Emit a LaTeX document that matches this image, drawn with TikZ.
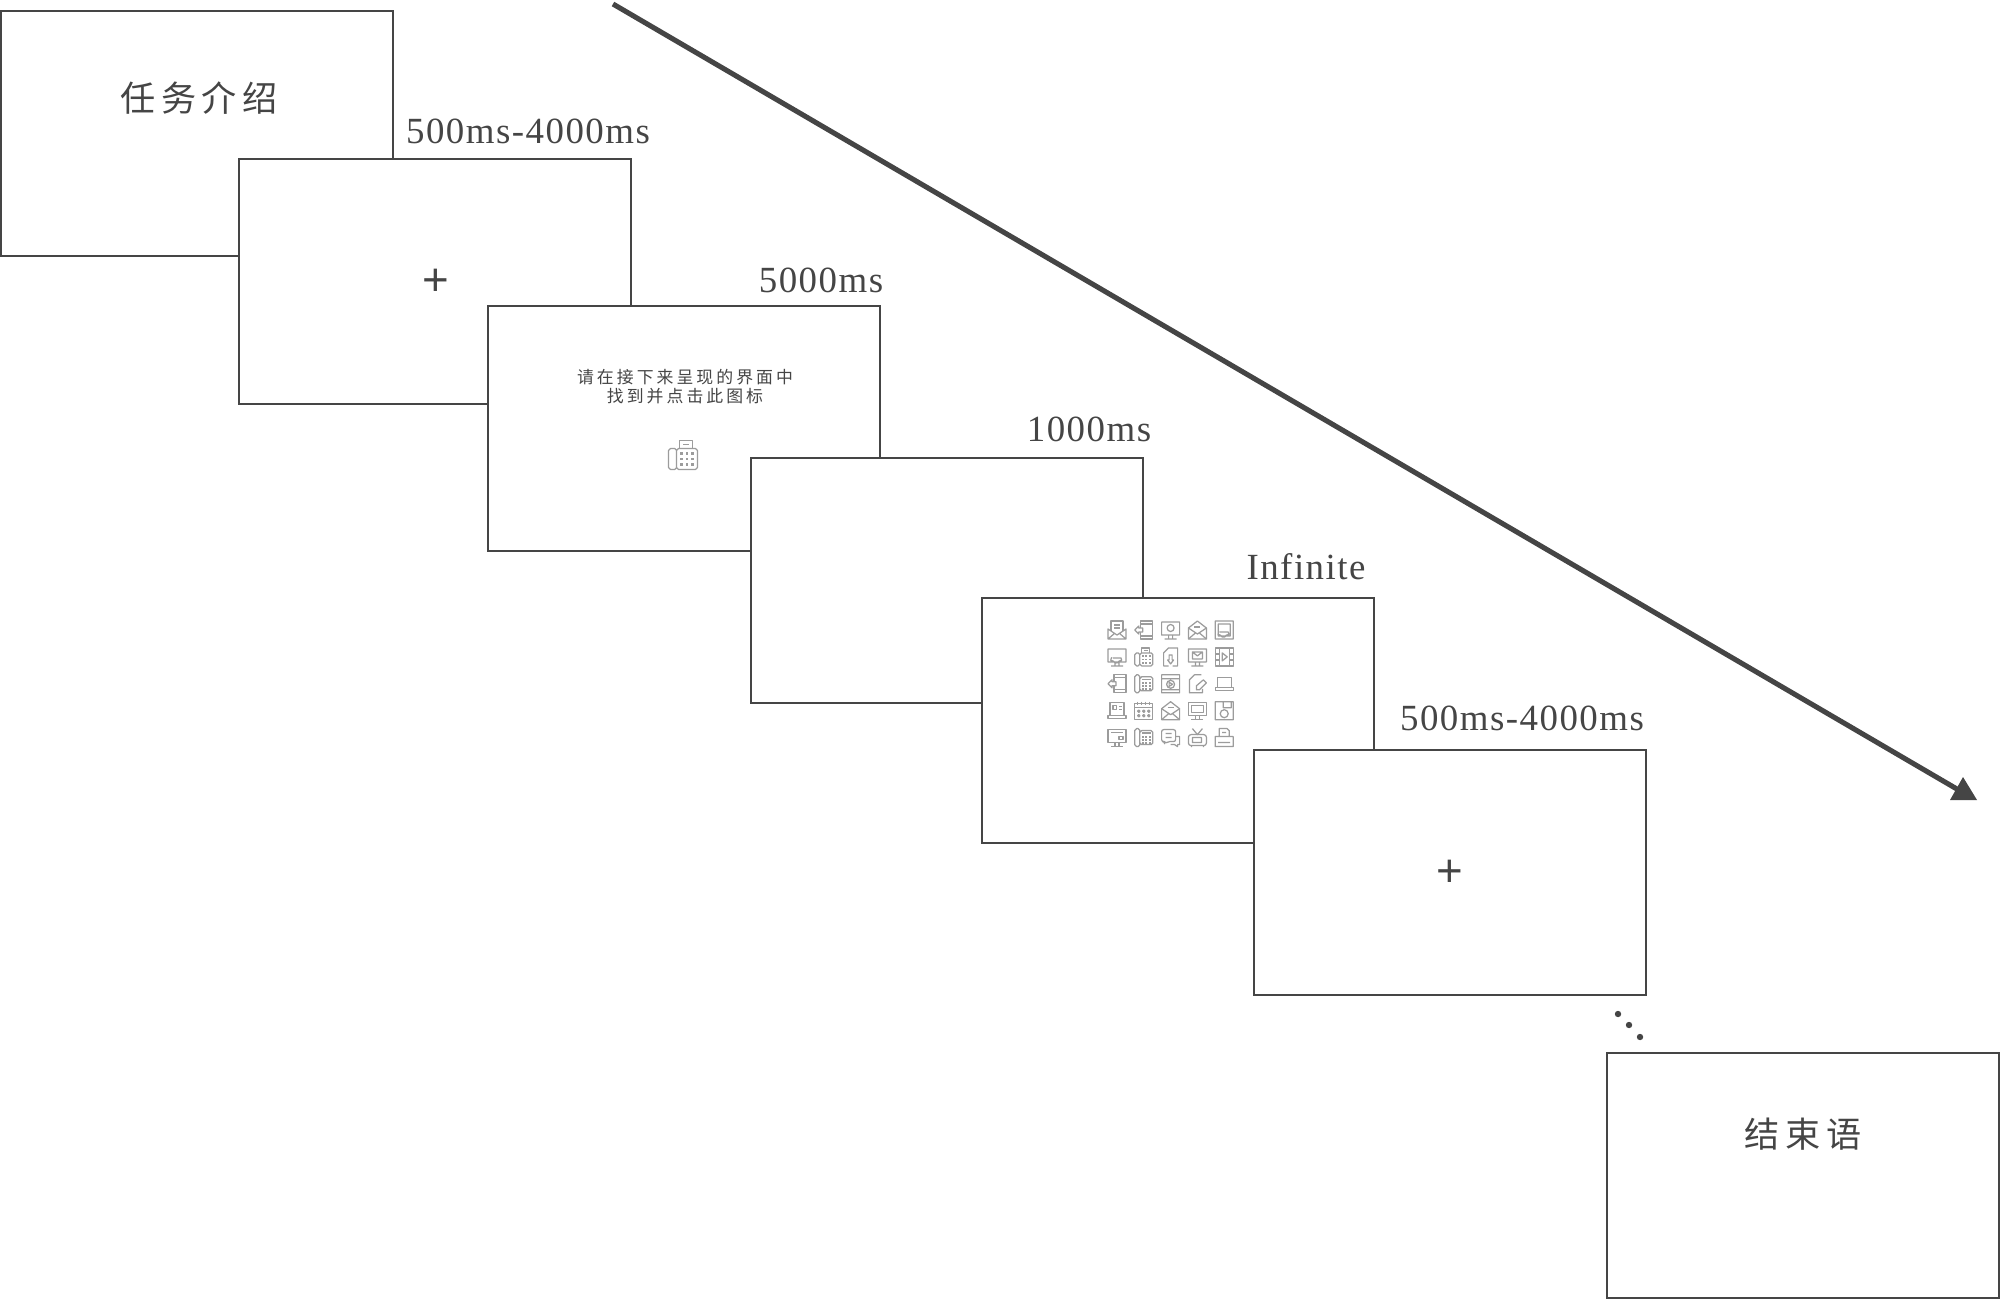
\documentclass[tikz,border=0pt]{standalone}
\usepackage{fontspec}
\setmainfont{Liberation Serif}[LetterSpace=4]
\setsansfont{Liberation Sans}
\newfontfamily\cjktitle{Noto Sans CJK SC}[LetterSpace=16]
\newfontfamily\cjksmall{Noto Sans CJK SC}[LetterSpace=18]
\definecolor{inkgray}{HTML}{454545}
\definecolor{icongray}{HTML}{9C9C9C}
\tikzset{
  screenbox/.style={draw=inkgray, fill=white, line width=1.3pt, anchor=north west, outer sep=0pt,
    minimum width=7.84cm, minimum height=4.9cm},
  timelabel/.style={text=inkgray, font=\fontsize{21}{25}\selectfont, inner sep=0pt},
  titletext/.style={text=inkgray, font=\cjktitle\fontsize{20}{24}\selectfont, inner sep=0pt},
  fixcross/.style={text=inkgray, font=\sffamily\fontsize{26}{26}\selectfont, inner sep=0pt},
  iconline/.style={draw=icongray, line width=0.7pt, line join=round},
  envopen/.pic={
    \draw[iconline] (-9,-2) -- (0,-9) -- (9,-2) -- (9,9) -- (-9,9) -- cycle;
    \draw[iconline] (-9,-2) -- (0,4) -- (9,-2) (-9,9) -- (-2,3) (9,9) -- (2,3);
    \draw[iconline] (-3,-3) -- (3,-3);},
  envpaper/.pic={
    \draw[iconline] (-6,1) -- (-6,-9) -- (6,-9) -- (6,1) (-3,-5) -- (3,-5) (-3,-2) -- (3,-2);
    \draw[iconline] (-9,-1) -- (-9,9) -- (9,9) -- (9,-1) -- (0,5) -- cycle (-9,9) -- (-2,3) (9,9) -- (2,3);},
  tabarrow/.pic={
    \draw[iconline] (-3,-9) rectangle (9,9) (-3,-6) -- (9,-6) (-3,6) -- (9,6);
    \draw[iconline,fill=white] (-9,0) -- (-5,-4) -- (-5,-2) -- (-1,-2) -- (-1,2) -- (-5,2) -- (-5,4) -- cycle;},
  monitor/.pic={
    \draw[iconline] (-9,-8) rectangle (9,5) (-6,-5) rectangle (6,2) (-2,5) -- (-2,9) (2,5) -- (2,9) (-6,9) -- (6,9);},
  moncircle/.pic={
    \draw[iconline] (-9,-8) rectangle (9,5) (0,-2) circle (3.5) (-2,5) -- (-2,9) (2,5) -- (2,9) (-6,9) -- (6,9);},
  moncloud/.pic={
    \draw[iconline] (-9,-8) rectangle (9,5) (-4,1) -- (4,1) arc (-60:120:1.8) arc (20:160:3.2) arc (60:270:1.8) (-2,5) -- (-2,9) (2,5) -- (2,9) (-6,9) -- (6,9);},
  monenv/.pic={
    \draw[iconline] (-9,-8) rectangle (9,5) (-5,-5) rectangle (5,2) (-5,-5) -- (0,-1) -- (5,-5) (-2,5) -- (-2,9) (2,5) -- (2,9) (-6,9) -- (6,9);},
  moncard/.pic={
    \draw[iconline] (-9,-8) rectangle (9,5) (-6,-5) -- (6,-5) (2,-1) rectangle (6,2) (-2,5) -- (-2,9) (2,5) -- (2,9) (-6,9) -- (6,9);},
  padcloud/.pic={
    \draw[iconline] (-9,-9) rectangle (9,9) (-6,-6) rectangle (6,6) (-4,2) -- (4,2) arc (-60:120:1.8) arc (20:160:3.2) arc (60:270:1.8);},
  faxphone/.pic={
    \draw[iconline,rounded corners=1pt] (-9,-4) rectangle (-4,9) (-4,-4) rectangle (9,9);
    \draw[iconline] (-2,-4) -- (-2,-9) -- (6,-9) -- (6,-4) (0,-6.5) -- (4,-6.5);
    \foreach \kx in {-1,2.5,6} \foreach \ky in {-1,2.5,6}
      \fill[icongray] (\kx-0.9,\ky-0.9) rectangle (\kx+0.9,\ky+0.9);},
  deskphone/.pic={
    \draw[iconline,rounded corners=1pt] (-9,-9) rectangle (-4,9) (-4,-7) rectangle (9,7);
    \foreach \kx in {-1,2.5,6} \foreach \ky in {-1,2.5,5}
      \fill[icongray] (\kx-0.9,\ky-0.9) rectangle (\kx+0.9,\ky+0.9);
    \draw[iconline] (-1.5,-4.5) -- (7,-4.5);},
  docarrow/.pic={
    \draw[iconline] (-2,9) -- (-7,9) -- (-7,-4) -- (-2,-9) -- (7,-9) -- (7,9) -- (2,9);
    \draw[iconline] (-3,3) -- (-1.5,3) -- (-1.5,-2) -- (1.5,-2) -- (1.5,3) -- (3,3) -- (0,7) -- cycle;},
  filmstrip/.pic={
    \draw[iconline] (-9,-9) rectangle (9,9) (-5,-9) -- (-5,9) (5,-9) -- (5,9) (-9,-3) -- (-5,-3) (-9,3) -- (-5,3) (5,-3) -- (9,-3) (5,3) -- (9,3);
    \draw[iconline] (-2,-4) -- (3,0) -- (-2,4) -- cycle;},
  videobox/.pic={
    \draw[iconline] (-9,-9) rectangle (9,9) (-9,-5) -- (9,-5) (-9,6) -- (9,6) (0,0.5) circle (4) (-1.5,-1.5) -- (2,0.5) -- (-1.5,2.5) -- cycle;},
  docpen/.pic={
    \draw[iconline] (4,-9) -- (-3,-9) -- (-8,-4) -- (-8,9) -- (5,9) -- (5,5);
    \draw[iconline] (-1,6) -- (-1,2) -- (6,-4) -- (9,-1) -- (2,6) -- cycle;},
  laptop/.pic={
    \draw[iconline] (-7,-6) rectangle (7,4) (-9,4) rectangle (9,7);},
  lapcard/.pic={
    \draw[iconline] (-7,-8) rectangle (7,5) (-9,5) rectangle (9,8) (-4,-5) rectangle (-0.5,-1) (2,-4) -- (5,-4) (2,-1) -- (5,-1);},
  calsheet/.pic={
    \draw[iconline] (-9,-7) rectangle (9,9) (-9,-3) -- (9,-3);
    \foreach \kx in {-6,-2,2,6} \draw[iconline] (\kx,-9) -- (\kx,-6);
    \foreach \kx in {-5,0,5} \foreach \ky in {0.5,5}
      \draw[iconline] (\kx,\ky) circle (1.2);},
  floppy/.pic={
    \draw[iconline] (-9,-9) rectangle (9,9) (-1,-9) -- (-1,-3) -- (7,-3) -- (7,-9) (0,3) circle (4);},
  chatbox/.pic={
    \draw[iconline,rounded corners=1.2pt] (-9,-8) -- (5,-8) -- (5,4) -- (-3,4) -- (-6,6) -- (-6,4) -- (-9,4) -- cycle;
    \draw[iconline] (-5,-4) -- (1,-4) (-5,0) -- (1,0) (5,-1) -- (9,-1) -- (9,7) -- (7,7) -- (7,9) -- (4,7) -- (0,7);},
  oldtv/.pic={
    \draw[iconline,rounded corners=1.5pt] (-9,-3) rectangle (9,8);
    \draw[iconline] (-5,0) rectangle (4,5) (-5,-9) -- (0,-3) -- (5,-9) (-6,8) -- (-6,9.5) (6,8) -- (6,9.5);},
  printer/.pic={
    \draw[iconline] (-5,-1) -- (-5,-9) -- (3,-9) -- (5,-7) -- (5,-1) (-9,9) -- (-9,-1) -- (9,-1) -- (9,9) -- cycle (-6,5) -- (6,5) (-2,-5) -- (2,-5);}
}
\begin{document}
\begin{tikzpicture}[x=0.02cm,y=-0.02cm]
  \useasboundingbox (0,0) rectangle (2004,1298);

  % screens, back to front
  \node[screenbox] (intro) at (1,11) {};
  \node[screenbox] (fixa) at (239,159) {};
  \node[screenbox] (cue) at (488,306) {};
  \node[screenbox] (blank) at (751,458) {};
  \node[screenbox] (search) at (982,598) {};
  \node[screenbox] (fixb) at (1254,750) {};
  \node[screenbox] (outro) at (1607,1053) {};

  % screen contents
  \node[titletext] (introtext) at (199,98) {任务介绍};
  \node[fixcross] (fixacross) at (435.5,282.5) {+};
  \node[text=inkgray, font=\cjksmall\fontsize{9.6}{10.8}\selectfont, align=center, inner sep=0pt] (cuetext) at (685,387) {请在接下来呈现的界面中\\找到并点击此图标};
  \pic[scale=1.6] at (683,455) {faxphone};
  \foreach \iconname/\col/\row in {envpaper/0/0, tabarrow/1/0, moncircle/2/0, envopen/3/0, padcloud/4/0,
      moncloud/0/1, faxphone/1/1, docarrow/2/1, monenv/3/1, filmstrip/4/1,
      tabarrow/0/2, deskphone/1/2, videobox/2/2, docpen/3/2, laptop/4/2,
      lapcard/0/3, calsheet/1/3, envopen/2/3, monitor/3/3, floppy/4/3,
      moncard/0/4, deskphone/1/4, chatbox/2/4, oldtv/3/4, printer/4/4}
    \pic at ({1117+26.8*\col},{630+26.9*\row}) {\iconname};
  \node[fixcross] (fixbcross) at (1450,873) {+};
  \node[titletext] (outrotext) at (1803,1134) {结束语};

  % durations
  \node[timelabel] (introtime) at (528,131) {500ms-4000ms};
  \node[timelabel] (fixatime) at (821,280) {5000ms};
  \node[timelabel] (cuetime) at (1089,429) {1000ms};
  \node[timelabel] (blanktime) at (1306,567) {Infinite};
  \node[timelabel] (searchtime) at (1522,718) {500ms-4000ms};

  % dots
  \fill[inkgray] (1618,1014) circle (3.2) (1629,1025) circle (3.2) (1640,1037) circle (3.2);

  % time arrow
  \coordinate (arrowstart) at (613,4);
  \coordinate (arrowend) at (1962,792);
  \draw[inkgray, line width=2.9pt] (arrowstart) -- (arrowend);
  \fill[inkgray] (1963,777) -- (1977,800) -- (1950,800) -- cycle;
\end{tikzpicture}
\end{document}
